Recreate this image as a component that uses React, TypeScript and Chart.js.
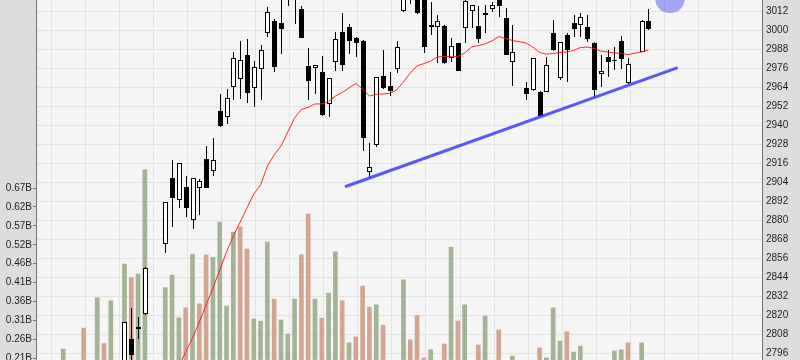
import React, { useEffect, useRef } from 'react';
import { Chart, registerables } from 'chart.js';

Chart.register(...registerables);

// ---- data (trading-day slots; null = no candle / not visible) ----
const open: (number | null)[] = [
  null, null, null, null, null, null, null, null, null, 2786,
  2804.8, 2812.3, 2820.8, null, null, 2864.7, 2906.3, 2892.6, 2900.6, 2879.8,
  2900.0, 2918.3, 2910.9, 2948.8, 2944.8, 2964.2, 2968.9, 2984.2, 2963.2, 2975.2,
  2997.9, 3005.7, 3004.2, 3022, 3024, 3013.3, 2977.3, 2976.2, 2973.7, 2953.1,
  2980.0, 2998.7, 3002.1, 2995.1, 2993.2, 2910.1, 2927.4, 2970.9, 2964.6, 2975.2,
  3012.2, 3025, 3022, 3021, 3003.2, 3002.1, 3002.5, 2982.1, 2991.6, 3001.1,
  3012.2, 3002.5, 3009.3, 3013.1, 3021, 3007.4, 2979.6, null, 2963.2, 2962.1,
  2961.0, 2961.0, 2998.3, 2969.9, 2996.8, 3004.2, 3002.9, 3001.7, 2992.0, 2972.2,
  2983.1, 2980.2, 2992.9, 2966.3, null, 2986.3, 3005.5,
];
const high: (number | null)[] = [
  null, null, null, null, null, null, null, null, null, 2815.6,
  2824.6, 2818.9, 2850.2, null, null, 2891.5, 2917.9, 2916.0, 2907.8, 2906.5,
  2905.9, 2926.5, 2932.0, 2959.4, 2962.7, 2986.3, 2993.1, 2994.1, 2980.3, 2990.5,
  3014.7, 3007.0, 3021.0, 3030, 3032, 3015.0, 2988.4, 2977.9, 2983.6, 2970.0,
  2998.9, 3010.5, 3003.6, 2995.8, 2993.5, 2928.4, 2970.3, 2987.4, 2973.7, 2993.1,
  3025, 3027, 3024, 3022, 3017.9, 3009.5, 3003.0, 2994.7, 2992.0, 3019.5,
  3016.0, 3015.2, 3015.8, 3018.0, 3024, 3013.7, 3003.2, null, 2967.3, 2982.3,
  2961.2, 2983.2, 3006.3, 2992.6, 2998.0, 3009.5, 3010.5, 3009.5, 2992.3, 2984.2,
  2987.4, 2989.5, 2996.2, 2982.5, null, 3006.2, 3013.1,
];
const low: (number | null)[] = [
  null, null, null, null, null, null, null, null, null, 2778,
  2788, 2804.8, 2819.9, null, null, 2859.3, 2875.8, 2887.8, 2881.7, 2874.1,
  2883.2, 2900.0, 2908.0, 2938.9, 2940.7, 2955.8, 2956.4, 2953.7, 2951.6, 2955.8,
  2995.8, 2973.3, 2984.6, 3015.2, 3003.6, 2995.0, 2955.8, 2959.4, 2945.9, 2945.2,
  2974.3, 2974.3, 2984.8, 2983.1, 2923.8, 2906.3, 2926.3, 2963.0, 2958.3, 2973.0,
  3011.5, 3016.4, 3010.0, 2985.7, 2996.8, 2979.4, 2978.5, 2980.0, 2974.0, 2992.0,
  3001.1, 2991.6, 2997.9, 3011.2, 3008.4, 2984.0, 2964.6, null, 2955.8, 2961.5,
  2945.5, 2960.8, 2987.0, 2968.4, 2967.3, 2995.8, 2995.8, 2992.6, 2957.9, 2963.8,
  2970.1, 2974.8, 2975.2, 2966.0, null, 2986.0, 3000.0,
];
const close: (number | null)[] = [
  null, null, null, null, null, null, null, null, null, 2815.4,
  2794.7, 2811.0, 2849.5, null, null, 2891.2, 2894.1, 2915.8, 2887.8, 2906.3,
  2904.6, 2900.4, 2917.9, 2939.4, 2957.3, 2982.1, 2980.9, 2960.0, 2976.6, 2987.4,
  3011.2, 2976.8, 3000.4, 3026, 3028, 2995.1, 2968.0, 2977.7, 2946.3, 2969.9,
  2994.1, 2978.1, 2993.2, 2991.6, 2931.6, 2913.3, 2970.1, 2963.2, 2961.7, 2989.1,
  3022, 3020, 3010.5, 2989.5, 3002.1, 3005.7, 2978.9, 2989.9, 2974.3, 3018.5,
  3015.8, 2994.1, 3010.5, 3015.8, 3015.2, 2984.2, 2986.3, null, 2959.6, 2982.1,
  2945.9, 2977.9, 2987.4, 2992.4, 2987.4, 3000.4, 3008.0, 2994.3, 2962.1, 2974.1,
  2979.6, 2981.3, 2982.0, 2978.3, null, 3005.9, 3000.4,
];
// volume in billions
const volume: (number | null)[] = [
  0.237, null, null, 0.294, null, 0.376, 0.252, 0.368, null, 0.468,
  0.431, 0.441, 0.724, null, null, 0.404, 0.438, 0.322, 0.349, 0.495,
  0.360, 0.493, 0.486, 0.582, 0.354, 0.555, 0.569, 0.509, 0.319, 0.313,
  0.528, 0.373, 0.316, 0.278, 0.373, 0.493, 0.604, 0.373, 0.321, 0.389,
  0.501, 0.368, 0.254, 0.270, 0.408, 0.351, 0.357, 0.302, null, null,
  0.425, 0.262, 0.328, 0.213, 0.235, null, 0.251, 0.514, 0.313, 0.357,
  null, 0.248, 0.327, null, 0.289, null, 0.218, null, null, null,
  0.240, 0.213, 0.349, 0.259, 0.284, 0.229, 0.245, null, null, null,
  null, 0.232, 0.235, 0.254, null, 0.254, null,
];
// 1 = up day (green volume), 0 = down day
const volumeUp: number[] = [
  1, 0, 0, 0, 0, 1, 0, 1, 0, 1,
  0, 1, 1, 0, 0, 1, 1, 1, 0, 1,
  0, 0, 1, 1, 1, 1, 0, 0, 1, 1,
  1, 0, 1, 1, 1, 0, 0, 1, 0, 1,
  1, 0, 1, 0, 0, 0, 1, 0, 0, 0,
  1, 0, 0, 0, 1, 0, 0, 1, 0, 1,
  0, 0, 1, 0, 0, 0, 1, 0, 0, 0,
  0, 1, 1, 1, 0, 1, 1, 0, 0, 0,
  0, 1, 1, 0, 0, 1, 0,
];
const movingAvg: (number | null)[] = [
  null, null, null, null, null, null, null, null, null, null,
  null, null, null, null, null, null, null, 2787.8, 2796.6, 2805.4,
  2815.6, 2826.3, 2837.0, 2848.4, 2859.8, 2869.9, 2878.7, 2887.6, 2896.4, 2902.1,
  2914.1, 2921.1, 2926.7, 2935.6, 2944.5, 2949.8, 2951.2, 2953.3, 2953.3, 2954.8,
  2958.3, 2960.5, 2963.4, 2966.2, 2962.7, 2958.3, 2959.4, 2959.6, 2960.0, 2962.1,
  2967.2, 2972.8, 2977.3, 2978.8, 2980.4, 2983.0, 2983.2, 2983.2, 2983.2, 2985.5,
  2989.3, 2990.2, 2991.2, 2993.1, 2995.9, 2994.6, 2993.4, null, 2991.8, 2989.3,
  2985.8, 2984.7, 2985.2, 2985.8, 2986.1, 2987.1, 2988.9, 2989.3, 2988.3, 2986.7,
  2986.1, 2985.5, 2985.2, 2984.5, null, 2986.1, 2987.4,
];
const dayIndex: number[] = open.map((_, i) => i);

// trend line (support) endpoints, in day-slot / price units
const trendX = [41.41, 90.3];
const trendY = [2901.0, 2976.2];
// highlight marker
const markerX = [89.17];
const markerY = [3020.2];

// axes
const priceTicks = [2796, 2808, 2820, 2832, 2844, 2856, 2868, 2880, 2892, 2904, 2916, 2928, 2940, 2952, 2964, 2976, 2988, 3000, 3012];
const volTickValues = [0.212, 0.2634, 0.3148, 0.3662, 0.4176, 0.469, 0.5204, 0.5718, 0.6232, 0.6746];
const volTickLabels = ['0.21B', '0.26B', '0.31B', '0.36B', '0.41B', '0.46B', '0.52B', '0.57B', '0.62B', '0.67B'];
const timeGridIndex = [-1.69, 3.31, 8.31, 13.31, 18.31, 23.31, 28.31, 33.31, 38.31, 43.31, 48.31, 53.31, 58.31, 63.31, 68.31, 73.31, 78.31, 83.31, 88.31, 93.31, 98.31];

const X_MIN = -4.0;
const X_MAX = 102.69;
const P_MIN = 2791.58;
const P_MAX = 3018.95;
const V_MIN = 0.2074;
const V_MAX = 1.1854;

const PANEL = '#dddddd';
const PLOT_BG = '#f5f5f5';
const GRID = '#e3e3e3';
const AXIS = '#6e7676';
const TEXT = '#1e1e1e';
const GREEN = '#a4b295';
const PINK = '#d2a592';
const FONT = { family: '"Liberation Sans", Arial, sans-serif', size: 10 };

const bgPlugin = {
  id: 'bg',
  beforeDraw(chart: any) {
    const { ctx, chartArea: a } = chart;
    ctx.save();
    ctx.fillStyle = PANEL;
    ctx.fillRect(0, 0, chart.width, chart.height);
    ctx.fillStyle = PLOT_BG;
    ctx.fillRect(a.left, a.top, a.right - a.left, a.bottom - a.top);
    ctx.restore();
  },
};

const candlePlugin = {
  id: 'candles',
  afterDatasetDraw(chart: any, args: any) {
    if (args.index !== 0) return;
    const { ctx, chartArea: a } = chart;
    const xs = chart.scales.x;
    const ys = chart.scales.y;
    ctx.save();
    ctx.beginPath();
    ctx.rect(a.left, a.top, a.right - a.left, a.bottom - a.top);
    ctx.clip();
    for (let i = 0; i < dayIndex.length; i++) {
      const o = open[i], h = high[i], l = low[i], c = close[i];
      if (o == null || h == null || l == null || c == null) continue;
      const x = Math.round(xs.getPixelForValue(dayIndex[i]));
      const yH = Math.round(ys.getPixelForValue(h));
      const yL = Math.round(ys.getPixelForValue(l));
      const yTop = Math.round(ys.getPixelForValue(Math.max(o, c)));
      const yBot = Math.round(ys.getPixelForValue(Math.min(o, c)));
      ctx.fillStyle = '#000';
      ctx.fillRect(x, yH, 1, Math.max(1, yL - yH));
      const hgt = Math.max(1, yBot - yTop);
      if (c >= o) {
        ctx.fillStyle = '#ffffff';
        ctx.fillRect(x - 2, yTop, 5, hgt);
        ctx.strokeStyle = '#000';
        ctx.lineWidth = 1;
        ctx.strokeRect(x - 1.5, yTop + 0.5, 4, Math.max(0, hgt - 1));
      } else {
        ctx.fillStyle = '#000';
        ctx.fillRect(x - 2, yTop, 5, hgt);
      }
    }
    ctx.restore();
  },
};

export default function App() {
  const canvasRef = useRef<HTMLCanvasElement>(null);
  useEffect(() => {
    const canvas = canvasRef.current as HTMLCanvasElement;
    const chart = new Chart(canvas, {
      type: 'bar',
      data: {
        datasets: [
          {
            type: 'bar',
            label: 'Volume',
            data: dayIndex.map((i) => ({ x: i, y: volume[i] })) as any,
            backgroundColor: dayIndex.map((i) => (volumeUp[i] ? GREEN : PINK)),
            borderWidth: 0,
            barThickness: 4,
            xAxisID: 'x',
            yAxisID: 'yVol',
            order: 10,
          },
          {
            type: 'line',
            label: 'MA',
            data: dayIndex.map((i) => ({ x: i, y: movingAvg[i] })) as any,
            borderColor: 'rgba(255,20,20,0.9)',
            borderWidth: 1,
            pointRadius: 0,
            spanGaps: true,
            tension: 0,
            xAxisID: 'x',
            yAxisID: 'y',
            order: 3,
          },
          {
            type: 'line',
            label: 'Trend',
            data: trendX.map((x, k) => ({ x, y: trendY[k] })) as any,
            borderColor: 'rgba(60,60,255,0.85)',
            borderWidth: 3,
            pointRadius: 0,
            xAxisID: 'x',
            yAxisID: 'y',
            order: 2,
          },
          {
            type: 'bubble',
            label: 'Marker',
            data: markerX.map((x, k) => ({ x, y: markerY[k], r: 15 })) as any,
            backgroundColor: 'rgba(90,90,250,0.52)',
            borderWidth: 0,
            xAxisID: 'x',
            yAxisID: 'y',
            order: 1,
          },
        ],
      },
      options: {
        animation: false,
        responsive: false,
        devicePixelRatio: 1,
        layout: { padding: 0, autoPadding: false },
        plugins: { legend: { display: false }, tooltip: { enabled: false } },
        events: [],
        scales: {
          x: {
            type: 'linear',
            position: 'bottom',
            offset: false,
            min: X_MIN,
            max: X_MAX,
            ticks: { display: false },
            grid: { color: GRID, drawTicks: false, lineWidth: 1, offset: false },
            border: { display: false },
            afterBuildTicks: (s: any) => {
              s.ticks = timeGridIndex.map((v) => ({ value: v }));
            },
            afterFit: (s: any) => {
              s.height = 0;
              s.paddingLeft = 0;
              s.paddingRight = 0;
            },
          },
          y: {
            type: 'linear',
            position: 'right',
            min: P_MIN,
            max: P_MAX,
            afterBuildTicks: (s: any) => {
              s.ticks = priceTicks.map((v) => ({ value: v }));
            },
            ticks: {
              color: TEXT,
              font: FONT,
              padding: 4,
              autoSkip: false,
              callback: (v: any) => String(v),
            },
            grid: { color: GRID, drawTicks: false, lineWidth: 1 },
            border: { color: AXIS, width: 1 },
            afterFit: (s: any) => {
              s.width = 38;
              s.paddingTop = 0;
              s.paddingBottom = 0;
            },
          },
          yVol: {
            type: 'linear',
            position: 'left',
            min: V_MIN,
            max: V_MAX,
            afterBuildTicks: (s: any) => {
              s.ticks = volTickValues.map((v) => ({ value: v }));
            },
            ticks: {
              color: TEXT,
              font: FONT,
              padding: 1,
              autoSkip: false,
              callback: (_v: any, idx: number) => volTickLabels[idx],
            },
            grid: { drawOnChartArea: false, drawTicks: true, tickLength: 3, color: AXIS },
            border: { color: AXIS, width: 1 },
            afterFit: (s: any) => {
              s.width = 36;
              s.paddingTop = 0;
              s.paddingBottom = 0;
            },
          },
        },
      },
      plugins: [bgPlugin, candlePlugin],
    } as any);
    return () => chart.destroy();
  }, []);
  return (
    <div style={{ position: 'fixed', left: 0, top: 0, width: 800, height: 360, overflow: 'hidden' }}>
      <canvas ref={canvasRef} width={800} height={360} style={{ display: 'block', width: 800, height: 360 }} />
    </div>
  );
}
